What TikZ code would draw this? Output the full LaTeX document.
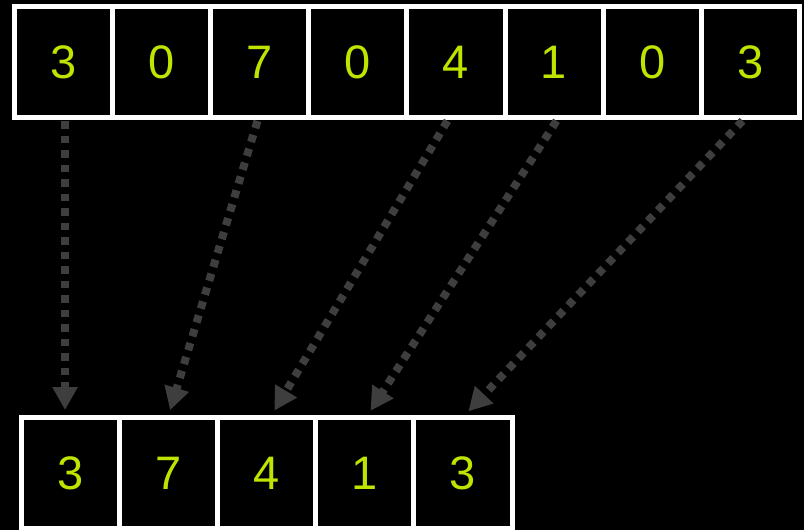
\documentclass[tikz,border=0pt]{standalone}
\usepackage{fontspec}
\setmainfont{Liberation Sans}
\usetikzlibrary{arrows.meta}
\definecolor{digitgreen}{RGB}{190,228,0}
\definecolor{dotgray}{RGB}{62,62,62}
\tikzset{
	cell/.style = {draw = white, line width = 5pt, fill = black, minimum width = 98.1pt, minimum height = 111pt, inner sep = 0pt, font = \fontsize{47}{47}\selectfont, text = digitgreen},
	pick/.style = {dotgray, line width = 8pt, dash pattern = on 7.5pt off 7pt, -{Triangle[width = 24pt, length = 23pt]}, shorten < = 1pt, shorten > = 5pt}
}
\begin{document}
\begin{tikzpicture} [x = 1pt, y = -1pt]
	\fill[black] (0,0) rectangle (804,530);
	\useasboundingbox (0,0) rectangle (804,530);
	% input row
	\foreach \v [count = \i] in {3,0,7,0,4,1,0,3}
		\node[cell] (t\i) at ({63.55 + 98.1*(\i-1)},62) {\v};
	% output row
	\foreach \v [count = \i] in {3,7,4,1,3}
		\node[cell] (b\i) at ({70.55 + 98.1*(\i-1)},473) {\v};
	\draw [pick] ([xshift = 1.5pt]t1.south) -- ([xshift = 1.5pt]t1.south |- b1.north);
	\draw [pick] ([xshift = -2pt]t3.south) -- (b2.north);
	\draw [pick] ([xshift = -8pt]t5.south) -- ([xshift = 5pt]b3.north);
	\draw [pick] ([xshift = 3pt]t6.south) -- ([xshift = 3pt]b4.north);
	\draw [pick] ([xshift = -7pt]t8.south) -- ([xshift = 2pt]b5.north);
\end{tikzpicture}
\end{document}
